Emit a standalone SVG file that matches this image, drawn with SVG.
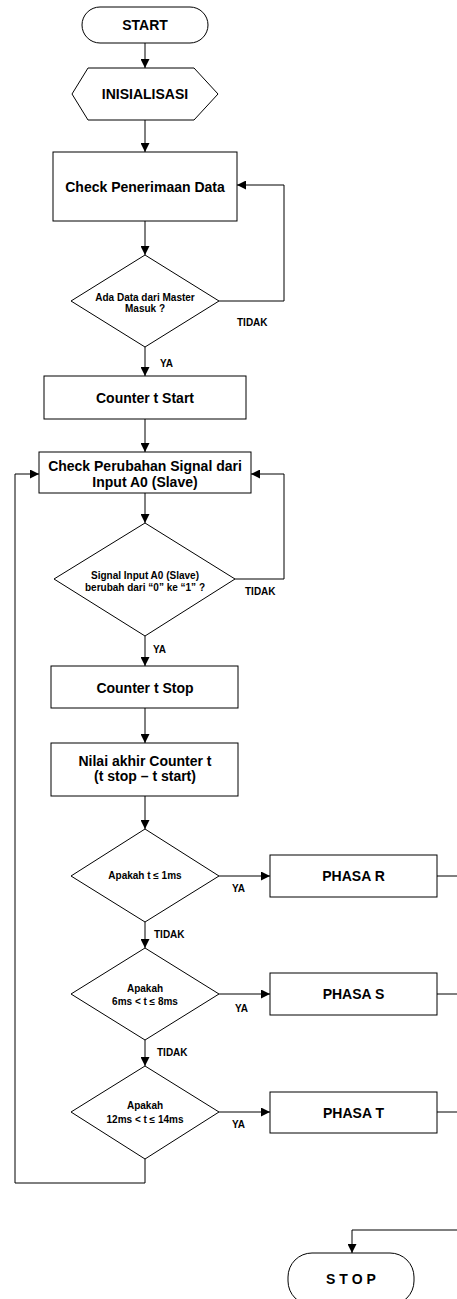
<svg xmlns="http://www.w3.org/2000/svg" width="457" height="1299" viewBox="0 0 457 1299">
<style>
.s{fill:#fff;stroke:#000;stroke-width:1}
.c{fill:none;stroke:#000;stroke-width:1}
text{font-family:"Liberation Sans",Arial,sans-serif;font-weight:bold;fill:#000}
.t14{font-size:14px;text-anchor:middle}
.t10{font-size:10px;text-anchor:middle}
.lb{font-size:10px}
</style>
<defs>
<marker id="ah" viewBox="0 0 10 10" refX="10" refY="5" markerWidth="9" markerHeight="9" markerUnits="userSpaceOnUse" orient="auto">
<path d="M0,0 L10,5 L0,10 z" fill="#000"/>
</marker>
</defs>
<rect width="457" height="1299" fill="#fff"/>
<g id="connectors">
<line class="c" x1="145" y1="43" x2="145" y2="68" marker-end="url(#ah)"/>
<line class="c" x1="145" y1="120" x2="145" y2="152" marker-end="url(#ah)"/>
<line class="c" x1="145" y1="221" x2="145" y2="255" marker-end="url(#ah)"/>
<polyline class="c" points="219,301 284,301 284,185 237,185" marker-end="url(#ah)"/>
<line class="c" x1="145" y1="347" x2="145" y2="376" marker-end="url(#ah)"/>
<line class="c" x1="145" y1="419" x2="145" y2="452" marker-end="url(#ah)"/>
<line class="c" x1="145" y1="493" x2="145" y2="523" marker-end="url(#ah)"/>
<polyline class="c" points="235,579 284,579 284,474 251,474" marker-end="url(#ah)"/>
<line class="c" x1="145" y1="636" x2="145" y2="666" marker-end="url(#ah)"/>
<line class="c" x1="145" y1="708" x2="145" y2="743" marker-end="url(#ah)"/>
<line class="c" x1="145" y1="796" x2="145" y2="829" marker-end="url(#ah)"/>
<line class="c" x1="145" y1="922" x2="145" y2="948" marker-end="url(#ah)"/>
<line class="c" x1="145" y1="1040" x2="145" y2="1066" marker-end="url(#ah)"/>
<line class="c" x1="219" y1="876" x2="270" y2="876" marker-end="url(#ah)"/>
<line class="c" x1="219" y1="994" x2="270" y2="994" marker-end="url(#ah)"/>
<line class="c" x1="219" y1="1112" x2="270" y2="1112" marker-end="url(#ah)"/>
<line class="c" x1="437" y1="876" x2="458" y2="876"/>
<line class="c" x1="437" y1="994" x2="458" y2="994"/>
<line class="c" x1="437" y1="1112" x2="458" y2="1112"/>
<polyline class="c" points="145,1159 145,1183 15,1183 15,474 39,474" marker-end="url(#ah)"/>
<polyline class="c" points="458,1230 352,1230 352,1253" marker-end="url(#ah)"/>
<text class="lb" x="237" y="326">TIDAK</text>
<text class="lb" x="160" y="367">YA</text>
<text class="lb" x="245" y="595">TIDAK</text>
<text class="lb" x="153" y="653">YA</text>
<text class="lb" x="232" y="892">YA</text>
<text class="lb" x="154" y="938">TIDAK</text>
<text class="lb" x="235" y="1012">YA</text>
<text class="lb" x="157" y="1056">TIDAK</text>
<text class="lb" x="232" y="1128">YA</text>
</g>
<g id="start">
<rect class="s" x="82" y="7" width="126" height="36" rx="18"/>
<text class="t14" x="145" y="30">START</text>
</g>
<g id="inisialisasi">
<polygon class="s" points="72,94 88,68 194,68 218,94 194,120 88,120"/>
<text class="t14" x="145" y="99">INISIALISASI</text>
</g>
<g id="check-penerimaan">
<rect class="s" x="53" y="152" width="184" height="69"/>
<text class="t14" x="145" y="192">Check Penerimaan Data</text>
</g>
<g id="ada-data">
<polygon class="s" points="145,255 219,301 145,347 71,301"/>
<text class="t10" x="145" y="300.5">Ada Data  dari Master</text>
<text class="t10" x="145" y="311.5">Masuk ?</text>
</g>
<g id="counter-start">
<rect class="s" x="44" y="376" width="202" height="43"/>
<text class="t14" x="145" y="403">Counter t Start</text>
</g>
<g id="check-perubahan">
<rect class="s" x="39" y="452" width="212" height="41"/>
<text class="t14" x="145" y="471">Check Perubahan Signal dari</text>
<text class="t14" x="145" y="487">Input A0 (Slave)</text>
</g>
<g id="signal-input">
<polygon class="s" points="145,523 235,579 145,636 54,579"/>
<text class="t10" x="145" y="579">Signal Input  A0 (Slave)</text>
<text class="t10" x="145" y="591">berubah dari “0” ke “1” ?</text>
</g>
<g id="counter-stop">
<rect class="s" x="51" y="666" width="187" height="42"/>
<text class="t14" x="145" y="693">Counter t Stop</text>
</g>
<g id="nilai-akhir">
<rect class="s" x="51" y="743" width="187" height="53"/>
<text class="t14" x="145" y="766">Nilai akhir Counter t</text>
<text class="t14" x="145" y="781">(t stop – t start)</text>
</g>
<g id="apakah-1">
<polygon class="s" points="145,829 219,876 145,922 71,876"/>
<text class="t10" x="145" y="879">Apakah t ≤  1ms</text>
</g>
<g id="phasa-r">
<rect class="s" x="270" y="855" width="167" height="42"/>
<text class="t14" x="353.5" y="881">PHASA R</text>
</g>
<g id="apakah-2">
<polygon class="s" points="145,948 219,994 145,1040 71,994"/>
<text class="t10" x="145" y="992">Apakah</text>
<text class="t10" x="145" y="1005">6ms &lt; t ≤  8ms</text>
</g>
<g id="phasa-s">
<rect class="s" x="270" y="973" width="167" height="42"/>
<text class="t14" x="353.5" y="999">PHASA S</text>
</g>
<g id="apakah-3">
<polygon class="s" points="145,1066 219,1112 145,1159 71,1112"/>
<text class="t10" x="145" y="1109">Apakah</text>
<text class="t10" x="145" y="1123">12ms &lt; t ≤  14ms</text>
</g>
<g id="phasa-t">
<rect class="s" x="270" y="1092" width="167" height="41"/>
<text class="t14" x="353.5" y="1118">PHASA T</text>
</g>
<g id="stop">
<rect class="s" x="288" y="1253" width="126" height="52" rx="24"/>
<text class="t14" x="351" y="1284">S T O P</text>
</g>
</svg>
